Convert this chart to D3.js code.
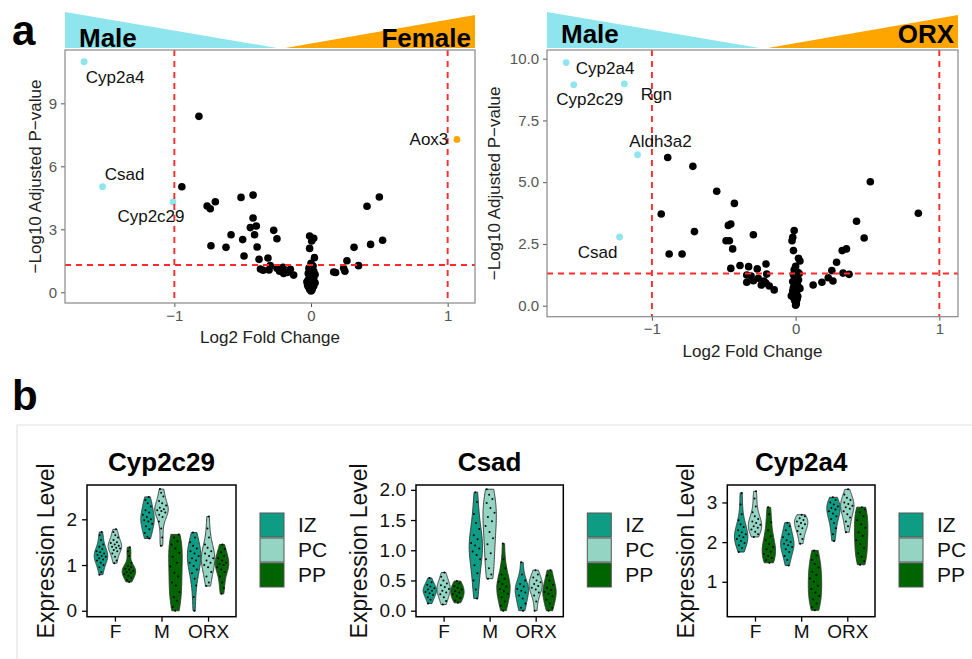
<!DOCTYPE html>
<html>
<head>
<meta charset="utf-8">
<script src="https://cdn.jsdelivr.net/npm/d3@7/dist/d3.min.js"></script>
<style>
body{margin:0;background:#fff;}
text{font-family:"Liberation Sans",Arial,Helvetica,sans-serif;}
</style>
</head>
<body>
<script>
var width=972, height=659;

// ---- panel a data: [log2FC, -log10 padj] ----
var femaleBg = [[-0.945,5.03],[-0.82,8.38],[-0.76,4.11],[-0.737,3.98],[-0.70,4.31],[-0.512,4.52],[-0.424,4.63],
  [-0.424,3.54],[-0.444,3.08],[-0.40,3.16],[-0.413,2.74],[-0.273,2.95],[-0.249,2.55],[-0.585,2.74],[-0.50,2.51],
  [-0.732,2.22],[-0.622,2.14],[-0.49,1.73],[-0.394,2.16],[-0.38,1.57],[-0.315,1.63],[-0.37,1.11],[-0.307,1.06],
  [-0.298,1.27],[-0.249,1.14],[-0.205,1.19],[-0.20,0.90],[-0.151,1.10],[-0.127,0.82],[-0.35,1.05],[-0.23,1.0],[-0.17,0.95],
  [-0.01,2.68],[0.02,2.57],[0.005,2.44],[-0.01,2.09],[0.025,1.65],[0.0,1.38],[0.015,1.25],[-0.015,1.15],[0.02,1.0],
  [-0.02,0.9],[0.01,0.82],[-0.01,0.75],[0.02,0.68],[-0.02,0.6],[0.0,0.55],[0.015,0.5],[-0.015,0.45],[0.01,0.4],
  [-0.005,0.35],[0.02,0.3],[-0.02,0.27],[0.0,0.22],[0.01,0.18],[-0.01,0.14],[0.005,0.1],[0.0,0.06],[0.03,0.85],
  [-0.03,0.5],[0.03,0.45],[-0.025,0.35],
  [0.166,0.97],[0.18,0.94],[0.239,1.14],[0.263,1.5],[0.248,1.0],[0.348,1.27],[0.315,2.14],[0.436,2.28],[0.524,2.48],
  [0.41,4.1],[0.50,4.54]];
var femaleHits = [["Cyp2a4",-1.66,10.98,"up"],["Csad",-1.525,5.03,"up"],["Cyp2c29",-1.01,4.30,"up"],["Aox3",1.068,7.28,"down"]];

var orxBg = [[-0.89,6.0],[-0.715,5.64],[-0.549,4.63],[-0.426,4.14],[-0.935,3.71],[-0.704,3.0],[-0.468,3.25],[-0.451,3.31],
  [-0.294,2.87],[-0.484,2.63],[-0.461,2.63],[-0.438,2.30],[-0.88,2.09],[-0.79,2.09],[-0.451,1.51],[-0.387,1.63],
  [-0.327,1.58],[-0.267,1.49],[-0.206,1.69],[-0.34,1.24],[-0.34,0.95],[-0.294,1.01],[-0.26,1.11],[-0.239,0.84],
  [-0.201,1.28],[-0.206,0.91],[-0.183,0.80],[-0.149,0.64],[-0.31,1.2],[-0.22,1.0],
  [-0.01,3.04],[-0.02,2.77],[-0.025,2.63],[-0.015,2.23],[0.02,1.92],[0.03,1.81],[0.0,1.6],[-0.01,1.45],[0.015,1.35],
  [-0.015,1.25],[0.01,1.15],[0.02,1.05],[-0.02,0.98],[0.0,0.9],[0.015,0.82],[-0.015,0.75],[0.02,0.68],[-0.02,0.6],
  [0.005,0.52],[-0.01,0.45],[0.015,0.38],[-0.015,0.32],[0.01,0.26],[-0.005,0.2],[0.0,0.14],[0.005,0.08],[0.0,0.02],
  [0.03,0.7],[-0.03,0.4],[0.025,1.3],
  [0.122,0.84],[0.183,0.95],[0.227,1.13],[0.26,1.0],[0.252,1.42],[0.285,1.76],[0.324,2.23],[0.354,2.30],[0.33,1.32],
  [0.372,1.27],[0.424,3.42],[0.477,2.74],[0.52,5.02],[0.854,3.74]];
var orxHits = [["Cyp2a4",-1.597,9.84,"up"],["Cyp2c29",-1.544,8.94,"up"],["Rgn",-1.192,8.98,"up"],["Aldh3a2",-1.10,6.11,"up"],["Csad",-1.225,2.78,"up"]];

var femaleTicksY = [0,3,6,9];
var orxTicksY = [0,2.5,5,7.5,10];
var fcTicks = [-1,0,1];

// ---- panel b data: expression values, order F-IZ,F-PC,F-PP, M-IZ,M-PC,M-PP, ORX-IZ,ORX-PC,ORX-PP ----
var conditions = ["F","M","ORX"];
var zones = ["IZ","PC","PP"];
var zoneColors = ["#0f9c85","#93d5c2","#006400"];

var exprCyp2c29 = [
  [0.79,0.85,0.95,1.0,1.05,1.1,1.12,1.15,1.18,1.2,1.22,1.25,1.28,1.3,1.35,1.4,1.45,1.55,1.65,1.72],
  [1.04,1.1,1.18,1.25,1.3,1.33,1.36,1.38,1.4,1.42,1.45,1.48,1.5,1.55,1.6,1.65,1.72,1.78],
  [0.63,0.68,0.72,0.76,0.8,0.83,0.85,0.87,0.9,0.92,0.95,0.98,1.05,1.2,1.3,1.39],
  [1.58,1.62,1.7,1.78,1.85,1.9,1.95,1.98,2.0,2.05,2.1,2.15,2.2,2.28,2.35,2.42,2.49],
  [1.42,1.6,1.8,1.95,2.05,2.1,2.15,2.18,2.2,2.22,2.25,2.3,2.35,2.4,2.5,2.58,2.66],
  [0.0,0.08,0.22,0.3,0.41,0.55,0.62,0.75,0.83,0.97,1.05,1.18,1.27,1.36,1.45,1.52,1.6,1.67],
  [0.0,0.3,0.55,0.7,0.82,0.9,0.98,1.05,1.1,1.15,1.2,1.25,1.3,1.36,1.42,1.5,1.6,1.71],
  [0.54,0.62,0.75,0.85,0.95,1.0,1.05,1.1,1.15,1.2,1.25,1.3,1.38,1.45,1.6,1.8,2.06],
  [0.37,0.5,0.62,0.75,0.85,0.9,0.95,1.0,1.02,1.05,1.1,1.15,1.2,1.28,1.35,1.45]];
var exprCsad = [
  [0.12,0.18,0.22,0.26,0.29,0.31,0.33,0.35,0.37,0.4,0.43,0.47,0.54],
  [0.1,0.16,0.22,0.27,0.3,0.33,0.36,0.39,0.42,0.45,0.5,0.56,0.63],
  [0.13,0.17,0.21,0.24,0.27,0.3,0.32,0.35,0.38,0.41,0.45,0.49],
  [0.2,0.35,0.5,0.62,0.75,0.85,0.92,0.98,1.03,1.08,1.12,1.18,1.25,1.35,1.45,1.6,1.8,1.96],
  [0.53,0.6,0.7,0.85,0.95,1.1,1.2,1.3,1.4,1.48,1.55,1.62,1.7,1.78,1.85,1.92,2.01],
  [0.0,0.08,0.15,0.22,0.28,0.32,0.36,0.4,0.44,0.48,0.53,0.6,0.7,0.85,1.11],
  [0.0,0.05,0.12,0.2,0.25,0.3,0.33,0.36,0.4,0.44,0.5,0.6,0.8],
  [0.0,0.15,0.25,0.3,0.35,0.38,0.41,0.44,0.47,0.5,0.55,0.6,0.67],
  [0.0,0.05,0.12,0.18,0.24,0.28,0.31,0.34,0.38,0.43,0.5,0.58,0.67]];
var exprCyp2a4 = [
  [1.75,1.85,1.92,1.98,2.03,2.08,2.12,2.16,2.2,2.25,2.3,2.38,2.45,2.55,2.7,2.95,3.24],
  [2.13,2.2,2.26,2.32,2.36,2.4,2.44,2.48,2.52,2.58,2.65,2.75,2.9,3.1,3.28],
  [1.48,1.55,1.6,1.65,1.7,1.76,1.82,1.88,1.95,2.05,2.15,2.3,2.5,2.7,2.88],
  [1.41,1.55,1.65,1.75,1.82,1.88,1.92,1.96,2.0,2.05,2.12,2.2,2.3,2.4,2.49],
  [1.96,2.08,2.2,2.28,2.35,2.4,2.45,2.48,2.52,2.56,2.6,2.65,2.69],
  [0.28,0.36,0.45,0.56,0.64,0.73,0.82,0.9,1.0,1.08,1.17,1.25,1.36,1.45,1.55,1.66,1.79],
  [2.03,2.2,2.35,2.48,2.58,2.65,2.72,2.78,2.82,2.86,2.9,2.95,3.0,3.06,3.13],
  [2.25,2.4,2.52,2.62,2.7,2.78,2.84,2.88,2.92,2.96,3.0,3.06,3.12,3.2,3.33],
  [1.43,1.52,1.63,1.72,1.85,1.95,2.05,2.16,2.25,2.36,2.45,2.55,2.65,2.75,2.82,2.88]];

var svg = d3.select("body").append("svg").attr("width", width).attr("height", height);

// panel letters
svg.append("text").attr("x",12).attr("y",45).attr("font-size",42).attr("font-weight","bold").text("a");
svg.append("text").attr("x",12).attr("y",410).attr("font-size",42).attr("font-weight","bold").text("b");

// ---------- volcano ----------
var cyanCol = "#8ee5ee", orangeCol = "#ffa500";

function volcano(o){
  var x = d3.scaleLinear().domain(o.xdom).range([o.x0,o.x1]);
  var y = d3.scaleLinear().domain(o.ydom).range([o.y1,o.y0]);
  var g = svg.append("g");

  // banner triangles
  g.append("path").attr("fill",cyanCol)
    .attr("d","M"+o.x0+","+(o.y0-2)+"L"+o.x0+",12L"+(o.x0+(o.x1-o.x0)*0.517)+","+(o.y0-2)+"Z");
  g.append("path").attr("fill",orangeCol)
    .attr("d","M"+(o.x0+(o.x1-o.x0)*0.537)+","+(o.y0-2)+"L"+o.x1+",15L"+o.x1+","+(o.y0-2)+"Z");
  g.append("text").attr("x",o.x0+14).attr("y",o.bannerBase).attr("font-size",26).attr("font-weight","bold").text("Male");
  g.append("text").attr("x",o.x1-4).attr("y",o.bannerBase).attr("font-size",26).attr("font-weight","bold")
    .attr("text-anchor","end").text(o.right);

  // axes
  var xa = g.append("g").attr("transform","translate(0,"+o.y1+")")
    .call(d3.axisBottom(x).tickValues(fcTicks).tickSize(4).tickPadding(3).tickFormat(function(d){return d<0?"\u2212"+(-d):d;}));
  var ya = g.append("g").attr("transform","translate("+o.x0+",0)")
    .call(d3.axisLeft(y).tickValues(o.yticks).tickSize(4).tickPadding(4).tickFormat(o.yfmt));
  [xa,ya].forEach(function(a){
    a.select(".domain").remove();
    a.selectAll("line").attr("stroke","#555");
    a.selectAll("text").attr("fill","#555").attr("font-size",15).attr("font-family","Liberation Sans, Arial, sans-serif");
  });

  g.append("text").attr("x",(o.x0+o.x1)/2).attr("y",o.y1+40).attr("text-anchor","middle")
    .attr("font-size",17).attr("fill","#222").text("Log2 Fold Change");
  g.append("text").attr("transform","translate("+(o.x0-o.ytitleOff)+","+((o.y0+o.y1)/2)+") rotate(-90)")
    .attr("dy","0.35em").attr("text-anchor","middle").attr("font-size",17).attr("fill","#222").text("\u2212Log10 Adjusted P\u2212value");

  // points
  g.selectAll(".bg").data(o.bg).enter().append("circle")
    .attr("cx",function(d){return x(d[0]);}).attr("cy",function(d){return y(d[1]);})
    .attr("r",3.8).attr("fill","#000");
  g.selectAll(".hit").data(o.hits).enter().append("circle")
    .attr("cx",function(d){return x(d[1]);}).attr("cy",function(d){return y(d[2]);})
    .attr("r",3.4).attr("fill",function(d){return d[3]=="up"?cyanCol:orangeCol;});

  // threshold lines
  var dash = {"stroke":"#ff2a2a","stroke-width":1.9,"stroke-dasharray":"6,5"};
  function line(x1,y1,x2,y2){
    var l = g.append("line").attr("x1",x1).attr("y1",y1).attr("x2",x2).attr("y2",y2);
    for(var k in dash) l.attr(k,dash[k]);
  }
  line(o.x0,y(-Math.log10(0.05)),o.x1,y(-Math.log10(0.05)));
  line(x(-1),o.y0,x(-1),o.y1);
  line(x(1),o.y0,x(1),o.y1);

  // labels
  g.selectAll(".lab").data(o.hits).enter().append("text")
    .attr("x",function(d){return x(d[1])+o.nudge[d[0]][0];})
    .attr("y",function(d){return y(d[2])+o.nudge[d[0]][1]+6;})
    .attr("text-anchor","middle").attr("font-size",17).attr("fill","#111")
    .text(function(d){return d[0];});

  g.append("rect").attr("x",o.x0).attr("y",o.y0).attr("width",o.x1-o.x0).attr("height",o.y1-o.y0)
    .attr("fill","none").attr("stroke","#888").attr("stroke-width",1.2);
}

volcano({x0:65,x1:475,y0:50,y1:303,xdom:[-1.80,1.20],ydom:[-0.51,11.54],right:"Female",bannerBase:47,
  bg:femaleBg,hits:femaleHits,yticks:femaleTicksY,yfmt:d3.format("d"),ytitleOff:30,
  nudge:{"Cyp2a4":[31,15],"Csad":[22,-13],"Cyp2c29":[-22,14],"Aox3":[-28,0]}});
volcano({x0:547,x1:958,y0:50,y1:316.7,xdom:[-1.73,1.13],ydom:[-0.445,10.35],right:"ORX",bannerBase:43,
  bg:orxBg,hits:orxHits,yticks:orxTicksY,yfmt:d3.format(".1f"),ytitleOff:53,
  nudge:{"Cyp2a4":[39,5],"Cyp2c29":[16,14],"Rgn":[32,10],"Aldh3a2":[23,-14],"Csad":[-22,15]}});

// ---------- panel b frame ----------
svg.append("path").attr("d","M17,"+height+"L17,425L"+width+",425").attr("fill","none").attr("stroke","#e3e3e3").attr("stroke-width",1.2);

// ---------- violins ----------
function kde(vals){
  var s = vals.slice().sort(d3.ascending), n = s.length;
  var sd = d3.deviation(s), iqr = d3.quantile(s,0.75)-d3.quantile(s,0.25);
  var bw = 1.2*0.9*Math.min(sd, iqr/1.34)*Math.pow(n,-0.2);
  var dens = function(v){
    return d3.mean(s,function(t){var u=(v-t)/bw;return Math.exp(-0.5*u*u);});
  };
  var lo = s[0], hi = s[n-1], grid = [];
  for(var i=0;i<=60;i++){var v=lo+(hi-lo)*i/60; grid.push([v,dens(v)]);}
  var mx = d3.max(grid,function(d){return d[1];});
  return {grid:grid, f:function(v){return dens(v)/mx;}, max:mx};
}

function violinPlot(o){
  var g = svg.append("g");
  var x = d3.scaleLinear().domain([0.4,3.6]).range([o.x0,o.x1]);
  var y = d3.scaleLinear().domain(o.ydom).range([o.y1,o.y0]);
  var unit = x(1)-x(0);
  var halfW = 0.145*unit;

  o.data.forEach(function(vals,k){
    var ci = Math.floor(k/3), zi = k%3;
    var cx = x(ci+1+(zi-1)*0.3);
    var kd = kde(vals);
    var area = d3.area()
      .y(function(d){return y(d[0]);})
      .x0(function(d){return cx-d[1]/kd.max*halfW;})
      .x1(function(d){return cx+d[1]/kd.max*halfW;})
      .curve(d3.curveBasis);
    g.append("path").datum(kd.grid).attr("d",area)
      .attr("fill",zoneColors[zi]).attr("stroke","#333").attr("stroke-width",0.9);
    g.selectAll(null).data(vals).enter().append("circle")
      .attr("cx",function(v,i){var f=((i*0.618034+0.29*k)%1)*2-1; return cx+f*kd.f(v)*halfW*0.8;})
      .attr("cy",function(v){return y(v);})
      .attr("r",1).attr("fill","#000");
  });

  g.append("rect").attr("x",o.x0).attr("y",o.y0).attr("width",o.x1-o.x0).attr("height",o.y1-o.y0)
    .attr("fill","none").attr("stroke","#000").attr("stroke-width",1.5);

  var ya = g.append("g").attr("transform","translate("+o.x0+",0)")
    .call(d3.axisLeft(y).tickValues(o.yticks).tickSize(5).tickPadding(5).tickFormat(o.yfmt));
  var xa = g.append("g").attr("transform","translate(0,"+o.y1+")")
    .call(d3.axisBottom(x).tickValues([1,2,3]).tickSize(5).tickPadding(3).tickFormat(function(d){return conditions[d-1];}));
  [xa,ya].forEach(function(a){
    a.select(".domain").remove();
    a.selectAll("line").attr("stroke","#000").attr("stroke-width",1.3);
    a.selectAll("text").attr("fill","#111").attr("font-size",19).attr("font-family","Liberation Sans, Arial, sans-serif");
  });

  g.append("text").attr("x",(o.x0+o.x1)/2).attr("y",471).attr("text-anchor","middle")
    .attr("font-size",26).attr("font-weight","bold").text(o.title);
  g.append("text").attr("transform","translate("+(o.ytitleX)+","+((o.y0+o.y1)/2)+") rotate(-90)")
    .attr("dy","0.35em").attr("text-anchor","middle").attr("font-size",23).attr("fill","#111").text("Expression Level");

  // legend
  zones.forEach(function(z,i){
    var ly = 513+i*25;
    g.append("rect").attr("x",o.x1+24).attr("y",ly).attr("width",24).attr("height",24)
      .attr("fill",zoneColors[i]).attr("stroke","#555").attr("stroke-width",1);
    g.append("text").attr("x",o.x1+62).attr("y",ly+12).attr("dy","0.35em")
      .attr("font-size",21).attr("fill","#111").text(z);
  });
}

violinPlot({x0:87,x1:236,y0:485,y1:616.7,ydom:[-0.13,2.75],yticks:[0,1,2],yfmt:d3.format("d"),
  data:exprCyp2c29,title:"Cyp2c29",ytitleX:46});
violinPlot({x0:416,x1:563.3,y0:485,y1:616.7,ydom:[-0.1,2.08],yticks:[0,0.5,1,1.5,2],yfmt:d3.format(".1f"),
  data:exprCsad,title:"Csad",ytitleX:359});
violinPlot({x0:727.3,x1:875,y0:485,y1:616.7,ydom:[0.12,3.44],yticks:[1,2,3],yfmt:d3.format("d"),
  data:exprCyp2a4,title:"Cyp2a4",ytitleX:686});
</script>
</body>
</html>
